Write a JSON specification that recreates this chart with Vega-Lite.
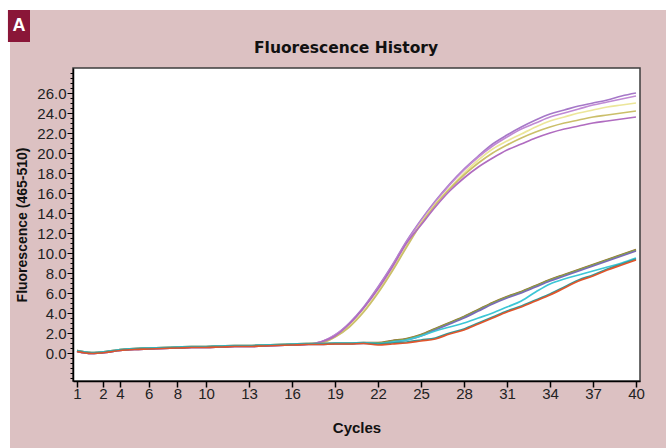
{
"$schema": "https://vega.github.io/schema/vega-lite/v6.json",
"width": 567, "height": 313,
"autosize": {"type": "none"},
"padding": {"left": 73, "top": 68, "right": 26, "bottom": 67},
"background": "#dcc1c2",
"config": {"view": {"fill": "white", "stroke": "#3c3c3c", "strokeWidth": 1.5}},
"datasets": {
"curves": [
{"s":"E1","c":1,"v":0.2},{"s":"E1","c":2,"v":0.0},{"s":"E1","c":3,"v":0.1},{"s":"E1","c":4,"v":0.3},{"s":"E1","c":5,"v":0.4},{"s":"E1","c":6,"v":0.45},{"s":"E1","c":7,"v":0.5},{"s":"E1","c":8,"v":0.55},{"s":"E1","c":9,"v":0.6},{"s":"E1","c":10,"v":0.6},{"s":"E1","c":11,"v":0.65},{"s":"E1","c":12,"v":0.7},{"s":"E1","c":13,"v":0.7},{"s":"E1","c":14,"v":0.75},{"s":"E1","c":15,"v":0.8},{"s":"E1","c":16,"v":0.85},{"s":"E1","c":17,"v":0.9},{"s":"E1","c":18,"v":1.1},{"s":"E1","c":19,"v":1.8},{"s":"E1","c":20,"v":3.0},{"s":"E1","c":21,"v":4.6},{"s":"E1","c":22,"v":6.6},{"s":"E1","c":23,"v":8.8},{"s":"E1","c":24,"v":11.2},{"s":"E1","c":25,"v":13.3},{"s":"E1","c":26,"v":15.2},{"s":"E1","c":27,"v":16.9},{"s":"E1","c":28,"v":18.4},{"s":"E1","c":29,"v":19.7},{"s":"E1","c":30,"v":20.9},{"s":"E1","c":31,"v":21.8},{"s":"E1","c":32,"v":22.6},{"s":"E1","c":33,"v":23.3},{"s":"E1","c":34,"v":23.9},{"s":"E1","c":35,"v":24.3},{"s":"E1","c":36,"v":24.7},{"s":"E1","c":37,"v":25.0},{"s":"E1","c":38,"v":25.3},{"s":"E1","c":39,"v":25.7},{"s":"E1","c":40,"v":26.0},
{"s":"E2","c":1,"v":0.15},{"s":"E2","c":2,"v":-0.05},{"s":"E2","c":3,"v":0.05},{"s":"E2","c":4,"v":0.25},{"s":"E2","c":5,"v":0.35},{"s":"E2","c":6,"v":0.4},{"s":"E2","c":7,"v":0.45},{"s":"E2","c":8,"v":0.5},{"s":"E2","c":9,"v":0.55},{"s":"E2","c":10,"v":0.55},{"s":"E2","c":11,"v":0.6},{"s":"E2","c":12,"v":0.65},{"s":"E2","c":13,"v":0.65},{"s":"E2","c":14,"v":0.7},{"s":"E2","c":15,"v":0.75},{"s":"E2","c":16,"v":0.8},{"s":"E2","c":17,"v":0.85},{"s":"E2","c":18,"v":1.1},{"s":"E2","c":19,"v":1.8},{"s":"E2","c":20,"v":2.9},{"s":"E2","c":21,"v":4.5},{"s":"E2","c":22,"v":6.5},{"s":"E2","c":23,"v":8.7},{"s":"E2","c":24,"v":11.1},{"s":"E2","c":25,"v":13.2},{"s":"E2","c":26,"v":15.1},{"s":"E2","c":27,"v":16.8},{"s":"E2","c":28,"v":18.3},{"s":"E2","c":29,"v":19.6},{"s":"E2","c":30,"v":20.7},{"s":"E2","c":31,"v":21.6},{"s":"E2","c":32,"v":22.4},{"s":"E2","c":33,"v":23.0},{"s":"E2","c":34,"v":23.6},{"s":"E2","c":35,"v":24.0},{"s":"E2","c":36,"v":24.4},{"s":"E2","c":37,"v":24.8},{"s":"E2","c":38,"v":25.1},{"s":"E2","c":39,"v":25.4},{"s":"E2","c":40,"v":25.7},
{"s":"E3","c":1,"v":0.25},{"s":"E3","c":2,"v":0.05},{"s":"E3","c":3,"v":0.15},{"s":"E3","c":4,"v":0.35},{"s":"E3","c":5,"v":0.45},{"s":"E3","c":6,"v":0.5},{"s":"E3","c":7,"v":0.55},{"s":"E3","c":8,"v":0.6},{"s":"E3","c":9,"v":0.65},{"s":"E3","c":10,"v":0.65},{"s":"E3","c":11,"v":0.7},{"s":"E3","c":12,"v":0.75},{"s":"E3","c":13,"v":0.75},{"s":"E3","c":14,"v":0.8},{"s":"E3","c":15,"v":0.85},{"s":"E3","c":16,"v":0.9},{"s":"E3","c":17,"v":0.95},{"s":"E3","c":18,"v":1.0},{"s":"E3","c":19,"v":1.6},{"s":"E3","c":20,"v":2.7},{"s":"E3","c":21,"v":4.2},{"s":"E3","c":22,"v":6.1},{"s":"E3","c":23,"v":8.3},{"s":"E3","c":24,"v":10.7},{"s":"E3","c":25,"v":13.0},{"s":"E3","c":26,"v":14.9},{"s":"E3","c":27,"v":16.5},{"s":"E3","c":28,"v":18.0},{"s":"E3","c":29,"v":19.3},{"s":"E3","c":30,"v":20.4},{"s":"E3","c":31,"v":21.2},{"s":"E3","c":32,"v":21.9},{"s":"E3","c":33,"v":22.6},{"s":"E3","c":34,"v":23.2},{"s":"E3","c":35,"v":23.6},{"s":"E3","c":36,"v":24.0},{"s":"E3","c":37,"v":24.3},{"s":"E3","c":38,"v":24.6},{"s":"E3","c":39,"v":24.8},{"s":"E3","c":40,"v":25.0},
{"s":"E4","c":1,"v":0.2},{"s":"E4","c":2,"v":0.0},{"s":"E4","c":3,"v":0.1},{"s":"E4","c":4,"v":0.3},{"s":"E4","c":5,"v":0.4},{"s":"E4","c":6,"v":0.45},{"s":"E4","c":7,"v":0.5},{"s":"E4","c":8,"v":0.55},{"s":"E4","c":9,"v":0.6},{"s":"E4","c":10,"v":0.6},{"s":"E4","c":11,"v":0.65},{"s":"E4","c":12,"v":0.7},{"s":"E4","c":13,"v":0.7},{"s":"E4","c":14,"v":0.75},{"s":"E4","c":15,"v":0.8},{"s":"E4","c":16,"v":0.85},{"s":"E4","c":17,"v":0.9},{"s":"E4","c":18,"v":1.0},{"s":"E4","c":19,"v":1.6},{"s":"E4","c":20,"v":2.6},{"s":"E4","c":21,"v":4.1},{"s":"E4","c":22,"v":6.0},{"s":"E4","c":23,"v":8.2},{"s":"E4","c":24,"v":10.6},{"s":"E4","c":25,"v":12.9},{"s":"E4","c":26,"v":14.8},{"s":"E4","c":27,"v":16.4},{"s":"E4","c":28,"v":17.8},{"s":"E4","c":29,"v":19.0},{"s":"E4","c":30,"v":20.0},{"s":"E4","c":31,"v":20.8},{"s":"E4","c":32,"v":21.5},{"s":"E4","c":33,"v":22.1},{"s":"E4","c":34,"v":22.6},{"s":"E4","c":35,"v":23.0},{"s":"E4","c":36,"v":23.3},{"s":"E4","c":37,"v":23.6},{"s":"E4","c":38,"v":23.8},{"s":"E4","c":39,"v":24.0},{"s":"E4","c":40,"v":24.2},
{"s":"E5","c":1,"v":0.15},{"s":"E5","c":2,"v":-0.05},{"s":"E5","c":3,"v":0.05},{"s":"E5","c":4,"v":0.25},{"s":"E5","c":5,"v":0.35},{"s":"E5","c":6,"v":0.4},{"s":"E5","c":7,"v":0.45},{"s":"E5","c":8,"v":0.5},{"s":"E5","c":9,"v":0.55},{"s":"E5","c":10,"v":0.55},{"s":"E5","c":11,"v":0.6},{"s":"E5","c":12,"v":0.65},{"s":"E5","c":13,"v":0.65},{"s":"E5","c":14,"v":0.7},{"s":"E5","c":15,"v":0.75},{"s":"E5","c":16,"v":0.8},{"s":"E5","c":17,"v":0.85},{"s":"E5","c":18,"v":1.1},{"s":"E5","c":19,"v":1.7},{"s":"E5","c":20,"v":2.9},{"s":"E5","c":21,"v":4.5},{"s":"E5","c":22,"v":6.4},{"s":"E5","c":23,"v":8.6},{"s":"E5","c":24,"v":11.0},{"s":"E5","c":25,"v":12.8},{"s":"E5","c":26,"v":14.6},{"s":"E5","c":27,"v":16.2},{"s":"E5","c":28,"v":17.5},{"s":"E5","c":29,"v":18.6},{"s":"E5","c":30,"v":19.5},{"s":"E5","c":31,"v":20.3},{"s":"E5","c":32,"v":20.9},{"s":"E5","c":33,"v":21.5},{"s":"E5","c":34,"v":22.0},{"s":"E5","c":35,"v":22.4},{"s":"E5","c":36,"v":22.7},{"s":"E5","c":37,"v":23.0},{"s":"E5","c":38,"v":23.2},{"s":"E5","c":39,"v":23.4},{"s":"E5","c":40,"v":23.6},
{"s":"L1","c":1,"v":0.25},{"s":"L1","c":2,"v":0.05},{"s":"L1","c":3,"v":0.15},{"s":"L1","c":4,"v":0.35},{"s":"L1","c":5,"v":0.45},{"s":"L1","c":6,"v":0.5},{"s":"L1","c":7,"v":0.55},{"s":"L1","c":8,"v":0.6},{"s":"L1","c":9,"v":0.65},{"s":"L1","c":10,"v":0.65},{"s":"L1","c":11,"v":0.7},{"s":"L1","c":12,"v":0.75},{"s":"L1","c":13,"v":0.75},{"s":"L1","c":14,"v":0.8},{"s":"L1","c":15,"v":0.85},{"s":"L1","c":16,"v":0.9},{"s":"L1","c":17,"v":0.95},{"s":"L1","c":18,"v":0.95},{"s":"L1","c":19,"v":1.0},{"s":"L1","c":20,"v":1.0},{"s":"L1","c":21,"v":1.05},{"s":"L1","c":22,"v":1.05},{"s":"L1","c":23,"v":1.25},{"s":"L1","c":24,"v":1.45},{"s":"L1","c":25,"v":1.85},{"s":"L1","c":26,"v":2.45},{"s":"L1","c":27,"v":3.05},{"s":"L1","c":28,"v":3.65},{"s":"L1","c":29,"v":4.35},{"s":"L1","c":30,"v":5.05},{"s":"L1","c":31,"v":5.65},{"s":"L1","c":32,"v":6.15},{"s":"L1","c":33,"v":6.75},{"s":"L1","c":34,"v":7.35},{"s":"L1","c":35,"v":7.85},{"s":"L1","c":36,"v":8.35},{"s":"L1","c":37,"v":8.85},{"s":"L1","c":38,"v":9.35},{"s":"L1","c":39,"v":9.85},{"s":"L1","c":40,"v":10.35},
{"s":"L2","c":1,"v":0.2},{"s":"L2","c":2,"v":0.0},{"s":"L2","c":3,"v":0.1},{"s":"L2","c":4,"v":0.3},{"s":"L2","c":5,"v":0.4},{"s":"L2","c":6,"v":0.45},{"s":"L2","c":7,"v":0.5},{"s":"L2","c":8,"v":0.55},{"s":"L2","c":9,"v":0.6},{"s":"L2","c":10,"v":0.6},{"s":"L2","c":11,"v":0.65},{"s":"L2","c":12,"v":0.7},{"s":"L2","c":13,"v":0.7},{"s":"L2","c":14,"v":0.75},{"s":"L2","c":15,"v":0.8},{"s":"L2","c":16,"v":0.85},{"s":"L2","c":17,"v":0.9},{"s":"L2","c":18,"v":0.9},{"s":"L2","c":19,"v":0.95},{"s":"L2","c":20,"v":0.95},{"s":"L2","c":21,"v":1.0},{"s":"L2","c":22,"v":1.0},{"s":"L2","c":23,"v":1.2},{"s":"L2","c":24,"v":1.4},{"s":"L2","c":25,"v":1.8},{"s":"L2","c":26,"v":2.4},{"s":"L2","c":27,"v":3.0},{"s":"L2","c":28,"v":3.6},{"s":"L2","c":29,"v":4.3},{"s":"L2","c":30,"v":5.0},{"s":"L2","c":31,"v":5.6},{"s":"L2","c":32,"v":6.1},{"s":"L2","c":33,"v":6.7},{"s":"L2","c":34,"v":7.3},{"s":"L2","c":35,"v":7.8},{"s":"L2","c":36,"v":8.3},{"s":"L2","c":37,"v":8.8},{"s":"L2","c":38,"v":9.3},{"s":"L2","c":39,"v":9.8},{"s":"L2","c":40,"v":10.3},
{"s":"L3","c":1,"v":0.15},{"s":"L3","c":2,"v":-0.05},{"s":"L3","c":3,"v":0.05},{"s":"L3","c":4,"v":0.25},{"s":"L3","c":5,"v":0.35},{"s":"L3","c":6,"v":0.4},{"s":"L3","c":7,"v":0.45},{"s":"L3","c":8,"v":0.5},{"s":"L3","c":9,"v":0.55},{"s":"L3","c":10,"v":0.55},{"s":"L3","c":11,"v":0.6},{"s":"L3","c":12,"v":0.65},{"s":"L3","c":13,"v":0.65},{"s":"L3","c":14,"v":0.7},{"s":"L3","c":15,"v":0.75},{"s":"L3","c":16,"v":0.8},{"s":"L3","c":17,"v":0.85},{"s":"L3","c":18,"v":0.85},{"s":"L3","c":19,"v":0.9},{"s":"L3","c":20,"v":0.9},{"s":"L3","c":21,"v":0.95},{"s":"L3","c":22,"v":0.9},{"s":"L3","c":23,"v":1.1},{"s":"L3","c":24,"v":1.3},{"s":"L3","c":25,"v":1.7},{"s":"L3","c":26,"v":2.3},{"s":"L3","c":27,"v":2.9},{"s":"L3","c":28,"v":3.5},{"s":"L3","c":29,"v":4.2},{"s":"L3","c":30,"v":4.9},{"s":"L3","c":31,"v":5.5},{"s":"L3","c":32,"v":6.0},{"s":"L3","c":33,"v":6.6},{"s":"L3","c":34,"v":7.2},{"s":"L3","c":35,"v":7.7},{"s":"L3","c":36,"v":8.2},{"s":"L3","c":37,"v":8.7},{"s":"L3","c":38,"v":9.2},{"s":"L3","c":39,"v":9.7},{"s":"L3","c":40,"v":10.2},
{"s":"L4","c":1,"v":0.25},{"s":"L4","c":2,"v":0.05},{"s":"L4","c":3,"v":0.15},{"s":"L4","c":4,"v":0.35},{"s":"L4","c":5,"v":0.45},{"s":"L4","c":6,"v":0.5},{"s":"L4","c":7,"v":0.55},{"s":"L4","c":8,"v":0.6},{"s":"L4","c":9,"v":0.65},{"s":"L4","c":10,"v":0.65},{"s":"L4","c":11,"v":0.7},{"s":"L4","c":12,"v":0.75},{"s":"L4","c":13,"v":0.75},{"s":"L4","c":14,"v":0.8},{"s":"L4","c":15,"v":0.85},{"s":"L4","c":16,"v":0.9},{"s":"L4","c":17,"v":0.95},{"s":"L4","c":18,"v":0.95},{"s":"L4","c":19,"v":1.0},{"s":"L4","c":20,"v":1.0},{"s":"L4","c":21,"v":1.05},{"s":"L4","c":22,"v":0.95},{"s":"L4","c":23,"v":1.1},{"s":"L4","c":24,"v":1.3},{"s":"L4","c":25,"v":1.7},{"s":"L4","c":26,"v":2.2},{"s":"L4","c":27,"v":2.6},{"s":"L4","c":28,"v":3.0},{"s":"L4","c":29,"v":3.5},{"s":"L4","c":30,"v":4.0},{"s":"L4","c":31,"v":4.6},{"s":"L4","c":32,"v":5.2},{"s":"L4","c":33,"v":6.1},{"s":"L4","c":34,"v":6.9},{"s":"L4","c":35,"v":7.4},{"s":"L4","c":36,"v":7.8},{"s":"L4","c":37,"v":8.2},{"s":"L4","c":38,"v":8.6},{"s":"L4","c":39,"v":9.0},{"s":"L4","c":40,"v":9.5},
{"s":"L5","c":1,"v":0.2},{"s":"L5","c":2,"v":0.0},{"s":"L5","c":3,"v":0.1},{"s":"L5","c":4,"v":0.3},{"s":"L5","c":5,"v":0.4},{"s":"L5","c":6,"v":0.45},{"s":"L5","c":7,"v":0.5},{"s":"L5","c":8,"v":0.55},{"s":"L5","c":9,"v":0.6},{"s":"L5","c":10,"v":0.6},{"s":"L5","c":11,"v":0.65},{"s":"L5","c":12,"v":0.7},{"s":"L5","c":13,"v":0.7},{"s":"L5","c":14,"v":0.75},{"s":"L5","c":15,"v":0.8},{"s":"L5","c":16,"v":0.85},{"s":"L5","c":17,"v":0.9},{"s":"L5","c":18,"v":0.9},{"s":"L5","c":19,"v":0.95},{"s":"L5","c":20,"v":0.95},{"s":"L5","c":21,"v":1.0},{"s":"L5","c":22,"v":0.9},{"s":"L5","c":23,"v":1.0},{"s":"L5","c":24,"v":1.1},{"s":"L5","c":25,"v":1.3},{"s":"L5","c":26,"v":1.5},{"s":"L5","c":27,"v":2.0},{"s":"L5","c":28,"v":2.4},{"s":"L5","c":29,"v":3.0},{"s":"L5","c":30,"v":3.6},{"s":"L5","c":31,"v":4.2},{"s":"L5","c":32,"v":4.7},{"s":"L5","c":33,"v":5.3},{"s":"L5","c":34,"v":5.9},{"s":"L5","c":35,"v":6.6},{"s":"L5","c":36,"v":7.3},{"s":"L5","c":37,"v":7.8},{"s":"L5","c":38,"v":8.4},{"s":"L5","c":39,"v":8.9},{"s":"L5","c":40,"v":9.4},
{"s":"L6","c":1,"v":0.15},{"s":"L6","c":2,"v":-0.05},{"s":"L6","c":3,"v":0.05},{"s":"L6","c":4,"v":0.25},{"s":"L6","c":5,"v":0.35},{"s":"L6","c":6,"v":0.4},{"s":"L6","c":7,"v":0.45},{"s":"L6","c":8,"v":0.5},{"s":"L6","c":9,"v":0.55},{"s":"L6","c":10,"v":0.55},{"s":"L6","c":11,"v":0.6},{"s":"L6","c":12,"v":0.65},{"s":"L6","c":13,"v":0.65},{"s":"L6","c":14,"v":0.7},{"s":"L6","c":15,"v":0.75},{"s":"L6","c":16,"v":0.8},{"s":"L6","c":17,"v":0.85},{"s":"L6","c":18,"v":0.85},{"s":"L6","c":19,"v":0.9},{"s":"L6","c":20,"v":0.9},{"s":"L6","c":21,"v":0.95},{"s":"L6","c":22,"v":0.8},{"s":"L6","c":23,"v":0.9},{"s":"L6","c":24,"v":1.0},{"s":"L6","c":25,"v":1.2},{"s":"L6","c":26,"v":1.4},{"s":"L6","c":27,"v":1.9},{"s":"L6","c":28,"v":2.3},{"s":"L6","c":29,"v":2.9},{"s":"L6","c":30,"v":3.5},{"s":"L6","c":31,"v":4.1},{"s":"L6","c":32,"v":4.6},{"s":"L6","c":33,"v":5.2},{"s":"L6","c":34,"v":5.8},{"s":"L6","c":35,"v":6.5},{"s":"L6","c":36,"v":7.2},{"s":"L6","c":37,"v":7.7},{"s":"L6","c":38,"v":8.3},{"s":"L6","c":39,"v":8.8},{"s":"L6","c":40,"v":9.3}
]
},
"layer": [
{
"data": {"name": "curves"},
"mark": {"type": "line", "strokeWidth": 1.7, "interpolate": "monotone"},
"encoding": {
"x": {"field": "c", "type": "quantitative",
"scale": {"domain": [0.72, 40.28], "nice": false, "zero": false},
"axis": {"title": "Cycles", "values": [1, 2.8, 4, 6, 8, 10, 13, 16, 19, 22, 25, 28, 31, 34, 37, 40], "tickCount": 100,
"labelExpr": "datum.value == 2.8 ? '2' : '' + datum.value",
"grid": false, "tickSize": 6, "tickColor": "#000000", "tickWidth": 1.5, "domainColor": "#000000", "domainWidth": 1.5,
"labelFont": "Liberation Sans", "labelFontSize": 15, "labelColor": "#222222", "labelPadding": -1,
"labelOverlap": false, "labelFlush": false,
"titleFont": "Liberation Sans", "titleFontSize": 15, "titleFontWeight": "bold", "titleColor": "#111111", "titlePadding": 19}},
"y": {"field": "v", "type": "quantitative",
"scale": {"domain": [-2.8, 28.5], "nice": false, "zero": false},
"axis": {"title": "Fluorescence (465-510)",
"values": [-2.5, -2, -1.5, -1, -0.5, 0, 0.5, 1, 1.5, 2, 2.5, 3, 3.5, 4, 4.5, 5, 5.5, 6, 6.5, 7, 7.5, 8, 8.5, 9, 9.5, 10, 10.5, 11, 11.5, 12, 12.5, 13, 13.5, 14, 14.5, 15, 15.5, 16, 16.5, 17, 17.5, 18, 18.5, 19, 19.5, 20, 20.5, 21, 21.5, 22, 22.5, 23, 23.5, 24, 24.5, 25, 25.5, 26, 26.5, 27, 27.5, 28], "tickCount": 500,
"labelExpr": "(datum.value % 2 == 0 && datum.value >= 0 && datum.value <= 26) ? format(datum.value, '.1f') : ''",
"tickSize": {"condition": {"test": "datum.value % 2 == 0 && datum.value >= 0 && datum.value <= 26", "value": 6}, "value": 3},
"grid": false, "tickColor": "#000000", "tickWidth": 1, "domainColor": "#000000", "domainWidth": 1.5,
"labelFont": "Liberation Sans", "labelFontSize": 15, "labelColor": "#222222", "labelPadding": 1,
"labelOverlap": false, "labelFlush": false,
"titleFont": "Liberation Sans", "titleFontSize": 14, "titleFontWeight": "bold", "titleColor": "#111111", "titlePadding": 7}},
"color": {"field": "s", "type": "nominal", "legend": null,
"scale": {"domain": ["E1", "E2", "E3", "E4", "E5", "L1", "L2", "L3", "L4", "L5", "L6"],
"range": ["#a678c8", "#c08ad4", "#ece69a", "#cbbf6a", "#b06cc0", "#a0662e", "#7fa84a", "#7a6ab8", "#3cc6d6", "#2c9c9c", "#e0552c"]}}
}
},
{
"data": {"values": [{"part": "top strip"}]},
"mark": {"type": "rect", "color": "white"},
"encoding": {
"x": {"datum": -4.6, "type": "quantitative"},
"x2": {"datum": 42.5},
"y": {"datum": 36.0, "type": "quantitative"},
"y2": {"datum": 34.3}
}
},
{
"data": {"values": [{"part": "left strip"}]},
"mark": {"type": "rect", "color": "white"},
"encoding": {
"x": {"datum": -4.6, "type": "quantitative"},
"x2": {"datum": -3.675},
"y": {"datum": 36.0, "type": "quantitative"},
"y2": {"datum": -10.5}
}
},
{
"data": {"values": [{"part": "badge"}]},
"mark": {"type": "rect", "color": "#8a1638"},
"encoding": {
"x": {"datum": -3.82, "type": "quantitative"},
"x2": {"datum": -2.28},
"y": {"datum": 34.3, "type": "quantitative"},
"y2": {"datum": 31.1}
}
},
{
"data": {"values": [{"label": "A"}]},
"mark": {"type": "text", "color": "white", "font": "Liberation Sans", "fontSize": 18, "fontWeight": "bold", "align": "center", "baseline": "middle"},
"encoding": {
"x": {"datum": -3.05, "type": "quantitative"},
"y": {"datum": 32.7, "type": "quantitative"},
"text": {"field": "label"}
}
},
{
"data": {"values": [{"label": "Fluorescence History"}]},
"mark": {"type": "text", "color": "#111111", "font": "DejaVu Sans", "fontSize": 15.5, "fontWeight": "bold", "align": "center", "baseline": "middle"},
"encoding": {
"x": {"datum": 19.77, "type": "quantitative"},
"y": {"datum": 30.5, "type": "quantitative"},
"text": {"field": "label"}
}
}
]
}
